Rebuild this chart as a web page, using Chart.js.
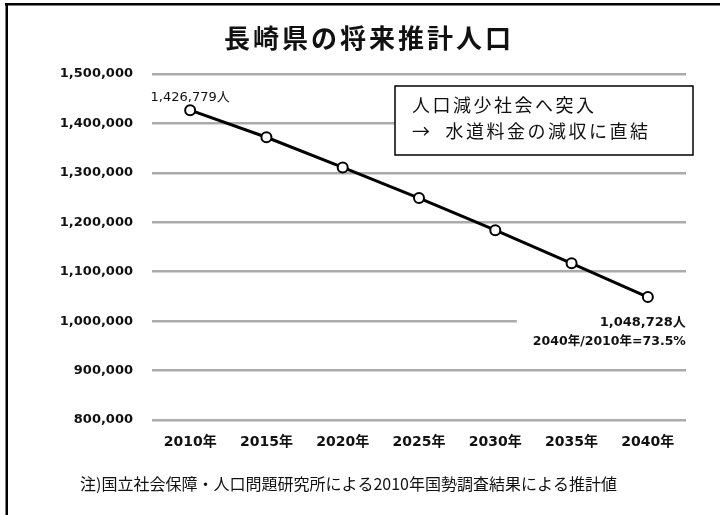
<!DOCTYPE html>
<html>
<head>
<meta charset="utf-8">
<script src="https://cdn.jsdelivr.net/npm/chart.js@4"></script>
<style>
  html, body { margin: 0; padding: 0; background: #fff; }
  #wrap { width: 720px; height: 515px; position: relative; }
</style>
</head>
<body>
<div id="wrap"><canvas id="popChart"></canvas></div>
<script>
// ── data ──
const years = ['2010年', '2015年', '2020年', '2025年', '2030年', '2035年', '2040年'];
const population = [1426779, 1372000, 1311000, 1249000, 1184000, 1117000, 1048728];
const yTicks = [800000, 900000, 1000000, 1100000, 1200000, 1300000, 1400000, 1500000];

const titleText = '長崎県の将来推計人口';
const noteLines = ['人口減少社会へ突入', '→  水道料金の減収に直結'];
const firstLabel = '1,426,779人';
const lastLabels = ['1,048,728人', '2040年/2010年=73.5%'];
const footnote = '注)国立社会保障・人口問題研究所による2010年国勢調査結果による推計値';

const JP = "'Noto Sans CJK JP', sans-serif";
const NUM = "'DejaVu Sans', 'Noto Sans CJK JP', sans-serif";

const decor = {
  id: 'decor',
  afterDatasetsDraw(chart) {
    const { ctx, scales: { x, y } } = chart;
    ctx.save();

    // frame (cropped: top and left only)
    ctx.fillStyle = '#000';
    ctx.fillRect(5, 3, 715, 2.5);
    ctx.fillRect(5.5, 3, 2.5, 512);

    // title
    ctx.fillStyle = '#111';
    ctx.font = 'bold 26px ' + JP;
    ctx.letterSpacing = '3px';
    ctx.textAlign = 'center';
    ctx.textBaseline = 'middle';
    ctx.fillText(titleText, 369, 38);
    ctx.letterSpacing = '0px';

    // note box
    ctx.fillStyle = '#fff';
    ctx.fillRect(395, 86, 298, 69);
    ctx.strokeStyle = '#000';
    ctx.lineWidth = 1.5;
    ctx.strokeRect(395, 86, 298, 69);
    ctx.fillStyle = '#111';
    ctx.font = '18px ' + JP;
    ctx.letterSpacing = '2.5px';
    ctx.textAlign = 'left';
    ctx.fillText(noteLines[0], 412, 105);
    ctx.fillText(noteLines[1], 412, 131);
    ctx.letterSpacing = '0px';

    // first point label
    const x0 = x.getPixelForValue(0), y0 = y.getPixelForValue(population[0]);
    ctx.font = '13px ' + NUM;
    ctx.textAlign = 'center';
    ctx.fillText(firstLabel, x0, y0 - 13);

    // last point label on white
    const n = population.length - 1;
    const xn = x.getPixelForValue(n), yn = y.getPixelForValue(population[n]);
    ctx.fillStyle = '#fff';
    ctx.fillRect(xn - 131, yn + 14, 172, 42);
    ctx.fillStyle = '#111';
    ctx.font = 'bold 13px ' + NUM;
    ctx.textAlign = 'right';
    ctx.fillText(lastLabels[0], xn + 38, yn + 26);
    ctx.font = 'bold 12.5px ' + NUM;
    ctx.fillText(lastLabels[1], xn + 38, yn + 45);

    // footnote
    ctx.font = '16px ' + JP;
    ctx.textAlign = 'left';
    ctx.fillText(footnote, 80, 484);

    ctx.restore();
  }
};

new Chart(document.getElementById('popChart'), {
  type: 'line',
  data: {
    labels: years,
    datasets: [{
      data: population,
      borderColor: '#000',
      borderWidth: 3,
      pointRadius: 5,
      pointBorderWidth: 2,
      pointBackgroundColor: '#fff',
      pointBorderColor: '#000',
      tension: 0
    }]
  },
  options: {
    responsive: true,
    maintainAspectRatio: false,
    animation: false,
    layout: { padding: { left: 0, top: 74, right: 34, bottom: 0 } },
    plugins: { legend: { display: false }, tooltip: { enabled: false }, title: { display: false } },
    scales: {
      x: {
        offset: true,
        grid: { display: false, drawTicks: false },
        border: { display: false },
        ticks: { color: '#111', font: { family: NUM, size: 14, weight: 'bold' }, padding: 14, maxRotation: 0 },
        afterFit(s) { s.height = 95; }
      },
      y: {
        min: 800000,
        max: 1500000,
        afterBuildTicks(s) { s.ticks = yTicks.map(v => ({ value: v })); },
        grid: { color: '#ababab', lineWidth: 2.5, drawTicks: false },
        border: { display: false },
        ticks: {
          color: '#111',
          font: { family: NUM, size: 13, weight: 'bold' },
          padding: 19,
          callback: v => v.toLocaleString('en-US')
        },
        afterFit(s) { s.width = 152; }
      }
    }
  },
  plugins: [decor]
});
</script>
</body>
</html>
